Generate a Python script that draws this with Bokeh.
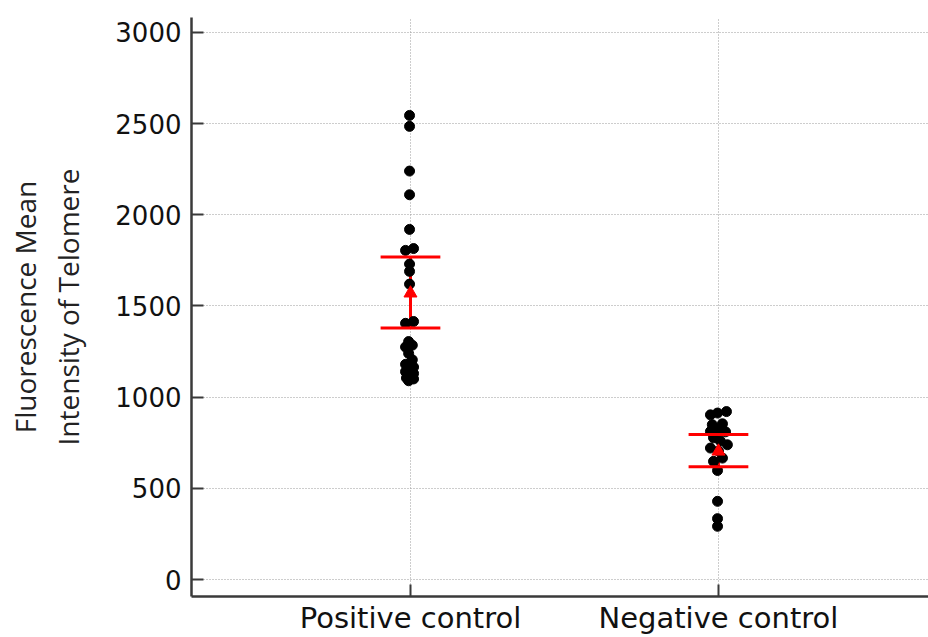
from bokeh.plotting import figure
from bokeh.models import Range1d, FixedTicker, ColumnDataSource
from bokeh.embed import file_html
from bokeh.resources import INLINE

# ---------------- data ----------------
categories = ["Positive control", "Negative control"]
cat_pos = [1, 2]

positive_values = [2545, 2485, 2240, 2110, 1920, 1815, 1805, 1730, 1690, 1620,
                   1415, 1405, 1305, 1285, 1275, 1240, 1205, 1180, 1165, 1140,
                   1130, 1115, 1105, 1100, 1090]
positive_jitter = [-0.003, -0.003, -0.003, -0.003, -0.003, 0.010, -0.016, -0.003, -0.003, -0.003,
                   0.010, -0.016, -0.006, 0.006, -0.016, -0.006, 0.006, -0.016, 0.010, -0.016,
                   0.010, -0.006, -0.013, 0.010, -0.006]

negative_values = [921, 913, 903, 854, 849, 825, 812, 810, 777, 760,
                   739, 721, 705, 666, 648, 598, 429, 334, 292]
negative_jitter = [0.026, -0.003, -0.026, 0.013, -0.020, 0.000, -0.026, 0.023, -0.016, 0.006,
                   0.029, -0.026, 0.000, 0.013, -0.016, -0.003, -0.003, -0.003, -0.003]

means = [1570, 703]
lower = [1380, 618]
upper = [1768, 795]

y_ticks = [0, 500, 1000, 1500, 2000, 2500, 3000]

# ---------------- figure ----------------
p = figure(width=928, height=637, output_backend="svg", toolbar_location=None,
           x_range=Range1d(0.289, 2.682), y_range=Range1d(-93, 3082),
           min_border_left=191, min_border_right=0, min_border_top=17, min_border_bottom=40)
p.outline_line_color = None
p.background_fill_color = "white"
p.border_fill_color = "white"

# grids
for g in (p.xgrid, p.ygrid):
    g.grid_line_color = "#9a9a9a"
    g.grid_line_dash = "1 2"
    g.grid_line_width = 1

# axes
p.xaxis.ticker = FixedTicker(ticks=cat_pos)
p.xaxis.major_label_overrides = {c: n for c, n in zip(cat_pos, categories)}
p.yaxis.ticker = FixedTicker(ticks=y_ticks)
for ax in (p.xaxis[0], p.yaxis[0]):
    ax.axis_line_color = "#3a3a3a"
    ax.axis_line_width = 2.5
    ax.major_tick_line_color = "#3a3a3a"
    ax.major_tick_line_width = 2
    ax.major_tick_in = 12
    ax.major_tick_out = 0
    ax.minor_tick_line_color = None
    ax.major_label_text_color = "#111111"

p.yaxis.major_label_text_font = "DejaVu Sans"
p.yaxis.major_label_text_font_size = "26px"
p.yaxis.major_label_standoff = 10
p.xaxis.major_label_text_font = "DejaVu Sans"
p.xaxis.major_label_text_font_size = "29px"
p.xaxis.major_label_standoff = 4

p.yaxis.axis_label = "Fluorescence Mean\nIntensity of Telomere"
p.yaxis.axis_label_text_font = "Open Sans"
p.yaxis.axis_label_text_font_style = "normal"
p.yaxis.axis_label_text_font_size = "28px"
p.yaxis.axis_label_text_color = "#222222"
p.yaxis.axis_label_text_line_height = 1.15
p.yaxis.axis_label_standoff = 25

# error bars: vertical line under points
cap_half = 0.097
p.segment(x0=cat_pos, y0=lower, x1=cat_pos, y1=upper, line_color="#ff0000", line_width=3)

# points
px = [cat_pos[0] + j for j in positive_jitter]
nx = [cat_pos[1] + j for j in negative_jitter]
src = ColumnDataSource(dict(x=px + nx, y=positive_values + negative_values))
p.scatter("x", "y", source=src, size=10, color="black", line_color="black")

# caps
cx0 = [c - cap_half for c in cat_pos]
cx1 = [c + cap_half for c in cat_pos]
p.segment(x0=cx0, y0=lower, x1=cx1, y1=lower, line_color="#ff0000", line_width=3)
p.segment(x0=cx0, y0=upper, x1=cx1, y1=upper, line_color="#ff0000", line_width=3)

# mean markers
p.scatter(x=cat_pos, y=means, marker="triangle", size=13, color="#ff0000")

open("out.html", "w").write(file_html(p, INLINE))
